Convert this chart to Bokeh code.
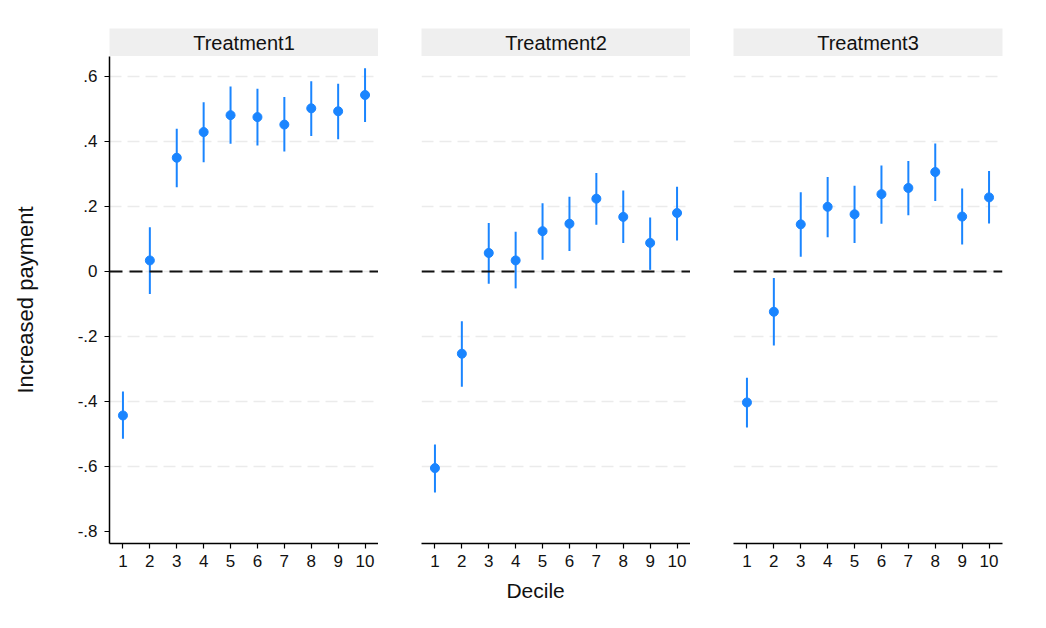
from bokeh.plotting import figure
from bokeh.layouts import row, column
from bokeh.models import (Range1d, FixedTicker, CustomJSTickFormatter, Span,
                          Label, ColumnDataSource)
from bokeh.embed import file_html
from bokeh.resources import INLINE

# ---- data ----
deciles = [1, 2, 3, 4, 5, 6, 7, 8, 9, 10]
panels = ["Treatment1", "Treatment2", "Treatment3"]

t1_est = [-0.443, 0.034, 0.350, 0.429, 0.481, 0.475, 0.452, 0.502, 0.493, 0.543]
t1_lo = [-0.515, -0.069, 0.259, 0.336, 0.393, 0.388, 0.369, 0.417, 0.407, 0.460]
t1_hi = [-0.369, 0.136, 0.439, 0.521, 0.569, 0.562, 0.537, 0.585, 0.578, 0.625]

t2_est = [-0.605, -0.253, 0.057, 0.034, 0.124, 0.147, 0.224, 0.168, 0.088, 0.180]
t2_lo = [-0.680, -0.355, -0.038, -0.052, 0.036, 0.063, 0.144, 0.088, 0.005, 0.095]
t2_hi = [-0.532, -0.153, 0.149, 0.122, 0.210, 0.230, 0.303, 0.249, 0.166, 0.261]

t3_est = [-0.403, -0.124, 0.145, 0.199, 0.176, 0.238, 0.257, 0.306, 0.169, 0.228]
t3_lo = [-0.480, -0.228, 0.045, 0.105, 0.088, 0.147, 0.173, 0.217, 0.083, 0.148]
t3_hi = [-0.327, -0.020, 0.244, 0.291, 0.264, 0.326, 0.340, 0.394, 0.255, 0.309]

y_ticks = [-0.8, -0.6, -0.4, -0.2, 0.0, 0.2, 0.4, 0.6]
grid_ticks = [-0.6, -0.4, -0.2, 0.0, 0.2, 0.4, 0.6]
ref_value = 0.0

y_label = "Increased payment"
x_label = "Decile"

# ---- styling ----
FONT = "Liberation Sans"
BLUE = "#1a85ff"
FRAME_W = 269
FRAME_H = 487
lefts = [109, 43, 43]
rights = [0, 0, 20]

series = [(t1_est, t1_lo, t1_hi), (t2_est, t2_lo, t2_hi), (t3_est, t3_lo, t3_hi)]

cols = []
for i, (name, (est, lo, hi)) in enumerate(zip(panels, series)):
    # header strip
    hdr = figure(frame_width=FRAME_W, frame_height=28, x_range=Range1d(0, 1),
                 y_range=Range1d(0, 1), x_axis_location=None, y_axis_location=None,
                 toolbar_location=None, output_backend="svg",
                 min_border_left=lefts[i], min_border_right=rights[i],
                 min_border_top=28, min_border_bottom=0)
    hdr.outline_line_color = None
    hdr.grid.visible = False
    hdr.background_fill_color = "#efefef"
    hdr.border_fill_color = "white"
    hdr.add_layout(Label(x=0.5, y=0.5, text=name, text_align="center",
                         text_baseline="middle", text_font=FONT,
                         text_font_size="20px", text_color="#111111"))

    p = figure(frame_width=FRAME_W, frame_height=FRAME_H,
               x_range=Range1d(0.5, 10.5), y_range=Range1d(-0.837, 0.6615),
               toolbar_location=None, output_backend="svg",
               y_axis_location="left" if i == 0 else None,
               min_border_left=lefts[i], min_border_right=rights[i],
               min_border_top=0, min_border_bottom=69)
    p.outline_line_color = None
    p.background_fill_color = "white"

    # x axis
    xa = p.xaxis[0]
    xa.ticker = FixedTicker(ticks=deciles)
    xa.major_label_text_font = FONT
    xa.major_label_text_font_size = "17px"
    xa.major_label_text_color = "#111111"
    xa.major_tick_out = 5
    xa.major_tick_in = 0
    xa.minor_tick_line_color = None
    xa.axis_line_width = 1.5
    xa.major_tick_line_width = 1.2
    xa.major_label_standoff = 6
    if i == 1:
        xa.axis_label = x_label + "\u00a0" * 7
        xa.axis_label_text_font = FONT
        xa.axis_label_text_font_size = "21px"
        xa.axis_label_text_font_style = "normal"
        xa.axis_label_text_color = "#111111"
        xa.axis_label_standoff = 9
    p.xgrid.visible = False

    if i == 0:
        ya = p.yaxis[0]
        ya.ticker = FixedTicker(ticks=y_ticks)
        ya.formatter = CustomJSTickFormatter(code="""
            if (Math.abs(tick) < 1e-9) return "0";
            return tick.toFixed(1).replace("0.", ".");
        """)
        ya.major_label_text_font = FONT
        ya.major_label_text_font_size = "17px"
        ya.major_label_text_color = "#111111"
        ya.major_tick_out = 5
        ya.major_tick_in = 0
        ya.minor_tick_line_color = None
        ya.axis_line_width = 1.5
        ya.major_tick_line_width = 1.2
        ya.major_label_standoff = 7
        ya.axis_label = y_label
        ya.axis_label_text_font = FONT
        ya.axis_label_text_font_size = "22px"
        ya.axis_label_text_font_style = "normal"
        ya.axis_label_text_color = "#111111"
        ya.axis_label_standoff = 37

    for g in p.ygrid:
        g.ticker = FixedTicker(ticks=grid_ticks)
        g.grid_line_color = "#ebebeb"
        g.grid_line_width = 1.3
        g.grid_line_dash = "12 6"

    p.add_layout(Span(location=ref_value, dimension="width", line_color="#111111",
                      line_width=2, line_dash="13 7"))

    src = ColumnDataSource(dict(x=deciles, est=est, lo=lo, hi=hi))
    p.segment(x0="x", y0="lo", x1="x", y1="hi", source=src,
              line_color=BLUE, line_width=2)
    p.scatter(x="x", y="est", source=src, size=9, fill_color=BLUE,
              line_color=BLUE)

    cols.append(column(hdr, p, spacing=0))

layout = row(*cols, spacing=0)
open("out.html", "w").write(file_html(layout, INLINE))
